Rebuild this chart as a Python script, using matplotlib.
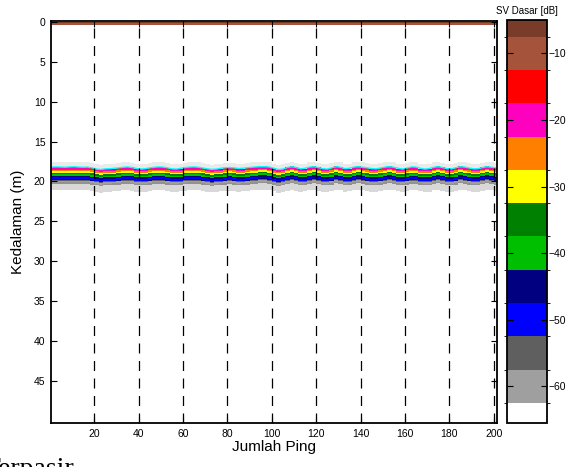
import numpy as np
import matplotlib
matplotlib.use("Agg")
import matplotlib.pyplot as plt
from matplotlib.colors import ListedColormap, BoundaryNorm

plt.rcParams['font.family'] = ['Liberation Sans', 'DejaVu Sans']

# EK500 style colour table, low -> high Sv
ek500 = [(1, 1, 1), (0.6235, 0.6235, 0.6235), (0.3725, 0.3725, 0.3725),
         (0, 0, 1), (0, 0, 0.5), (0, 0.749, 0), (0, 0.5, 0),
         (1, 1, 0), (1, 0.5, 0), (1, 0, 0.749), (1, 0, 0),
         (0.651, 0.3255, 0.2353), (0.4706, 0.2353, 0.1569)]
sv_edges = np.arange(-67.5, 0, 5)   # 14 edges -> 13 bands
sv_range = (-65.5, -5)              # shown part of the colour scale
cbar_ticks = [-60, -50, -40, -30, -20, -10]

# bottom line depth (m), one value every 2 pings (ping 1, 3, ... 201)
bottom_depth = [18.20, 18.18, 18.20, 18.22, 18.18, 18.16, 18.20, 18.22, 18.20,
                18.30, 18.45, 18.50, 18.42, 18.40, 18.35, 18.30, 18.22, 18.18,
                18.25, 18.38, 18.45, 18.40, 18.30, 18.22, 18.18, 18.20, 18.30,
                18.42, 18.45, 18.35, 18.25, 18.20, 18.18, 18.22, 18.32, 18.42,
                18.48, 18.45, 18.35, 18.28, 18.25, 18.30, 18.38, 18.35, 18.28,
                18.22, 18.18, 18.15, 18.15, 18.20, 18.35, 18.50, 18.45, 18.25,
                18.15, 18.25, 18.42, 18.35, 18.20, 18.15, 18.25, 18.40, 18.45,
                18.30, 18.15, 18.22, 18.40, 18.35, 18.20, 18.15, 18.22, 18.30,
                18.38, 18.42, 18.32, 18.20, 18.15, 18.22, 18.35, 18.45, 18.32,
                18.18, 18.20, 18.35, 18.45, 18.38, 18.22, 18.15, 18.25, 18.40,
                18.42, 18.28, 18.15, 18.20, 18.32, 18.42, 18.40, 18.25, 18.15,
                18.22, 18.30]

# Sv (dB) below the bottom line, 0.1 m steps
bottom_profile = [-15, -18, -22, -25, -25, -28, -30, -33, -36, -40,
                  -40, -45, -45, -48, -50, -47, -55, -58, -60, -61,
                  -62, -64, -64, -65]
# Sv (dB) of the surface layer, 0.1 m steps from 0 m
surface_profile = [-6, -6, -9, -11]
background_sv = -66
# weak scatter around the bottom echo (m relative to the bottom line)
scatter_above = (-0.6, 0.0)
scatter_below = (1.9, 2.9)

dz = 0.1
max_depth = 50.3
z_edges = np.arange(0, max_depth + dz / 2, dz)
n_rows = len(z_edges) - 1
n_cols = len(bottom_depth)
ping = np.arange(n_cols) * 2 + 1
x_edges = np.arange(n_cols + 1) * 2.0
bd = np.array(bottom_depth)

sv = np.full((n_rows, n_cols), background_sv, dtype=float)
for j, d in enumerate(bottom_depth):
    i0 = int(round(d / dz))
    for k, v in enumerate(bottom_profile):
        sv[i0 + k, j] = v
    for k, v in enumerate(surface_profile):
        sv[k, j] = v

cmap = ListedColormap(ek500)
norm = BoundaryNorm(sv_edges, cmap.N)

fig = plt.figure(figsize=(5.67, 4.67), dpi=100)
ax = fig.add_axes([51 / 567, 1 - 423 / 467, 446 / 567, 402 / 467])
cax = fig.add_axes([507 / 567, 1 - 423 / 467, 40 / 567, 403 / 467])

mesh = ax.pcolormesh(x_edges, z_edges, sv, cmap=cmap, norm=norm, shading='flat')
ax.fill_between(ping, bd + scatter_above[0], bd + scatter_above[1],
                color='0.45', alpha=0.15, lw=0, step='mid')
ax.fill_between(ping, bd + scatter_below[0], bd + scatter_below[1],
                color='0.45', alpha=0.28, lw=0, step='mid')
ax.plot(ping, bottom_depth, color='cyan', lw=1.0)

for x in range(20, 201, 20):
    ax.axvline(x, color='black', lw=0.9, linestyle=(0, (8, 6)), zorder=3)

ax.set_xlim(0.5, 201.5)
ax.set_ylim(50.25, -0.1)
ax.set_xticks(range(20, 201, 20))
ax.set_yticks(range(0, 46, 5))
ax.tick_params(direction='in', length=4, width=0.8, labelsize=7.5,
               top=True, right=True, pad=4)
for s in ax.spines.values():
    s.set_linewidth(1.3)
ax.set_xlabel('Jumlah Ping', fontsize=11, labelpad=1)
ax.set_ylabel('Kedalaman (m)', fontsize=11, labelpad=6)

cb = fig.colorbar(mesh, cax=cax)
cb.set_ticks(cbar_ticks)
cax.set_ylim(*sv_range)
cax.yaxis.set_ticks_position('both')
cb.ax.tick_params(direction='in', length=4, width=0.8, labelsize=7.5,
                  left=True, right=True, labelleft=False, labelright=True, pad=1)
cb.outline.set_linewidth(1.3)
cax.text(0.5, 1.01, 'SV Dasar [dB]', transform=cax.transAxes, ha='center',
         va='bottom', fontsize=7)

fig.text(-17 / 567, -9 / 467, 'Terpasir', family='Liberation Serif',
         fontsize=20, ha='left', va='baseline')

fig.savefig('out.png', dpi=100)
